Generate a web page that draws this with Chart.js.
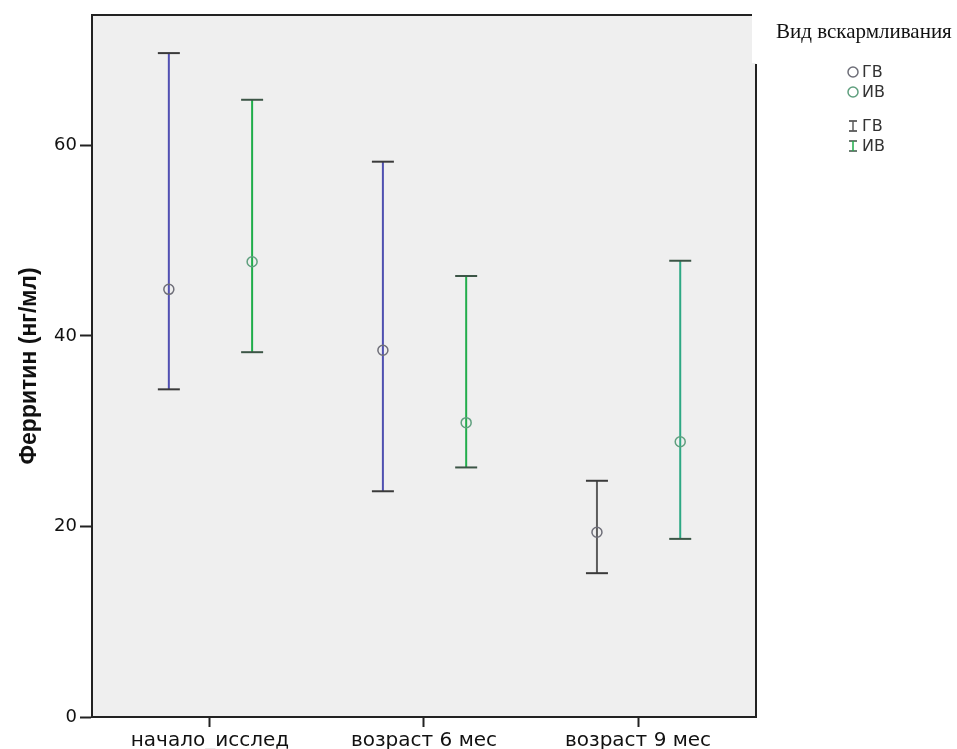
<!DOCTYPE html>
<html><head><meta charset="utf-8">
<script src="https://cdn.jsdelivr.net/npm/chart.js@4.4.1/dist/chart.umd.min.js"></script>
<style>html,body{margin:0;padding:0;background:#fff;overflow:hidden}#wrap{width:957px;height:749px}</style>
</head><body><div id="wrap"><canvas id="c" width="957" height="749"></canvas></div>
<script>
// ---- data ----
const categories = ['начало_исслед', 'возраст 6 мес', 'возраст 9 мес'];
const seriesNames = ['ГВ', 'ИВ'];
const gvMean = [44.9, 38.5, 19.4];
const gvLow  = [34.4, 23.7, 15.1];
const gvHigh = [69.7, 58.3, 24.8];
const ivMean = [47.8, 30.9, 28.9];
const ivLow  = [38.3, 26.2, 18.7];
const ivHigh = [64.8, 46.3, 47.9];
const yTicks = [0, 20, 40, 60];
const yTitle = 'Ферритин (нг/мл)';
const legendTitle = 'Вид вскармливания';

// ---- styling ----
const gvLineColor = ['#5150b2', '#4f50b0', '#5c5c5c'];
const ivLineColor = ['#1fad4a', '#22ad4c', '#2ea884'];
const gvCap = '#3a3a3a', ivCap = '#3c5546';
const gvMark = '#6e6e78', ivMark = '#5f9f7e';
const OFF_GV = -0.192, OFF_IV = 0.197;

const datasets = [];
function addSeries(mean, low, high, off, lineColors, capColor, markColor) {
  categories.forEach((c, i) => {
    const x = i + 1 + off;
    datasets.push({type:'line', data:[{x, y:low[i]}, {x, y:high[i]}], borderColor:lineColors[i],
      borderWidth:2, pointRadius:0, fill:false, order:3});
    datasets.push({type:'scatter', data:[{x, y:low[i]}, {x, y:high[i]}], pointStyle:'line',
      pointRadius:11, pointBorderWidth:2, borderColor:capColor, order:2});
  });
  datasets.push({type:'scatter', data:categories.map((c,i)=>({x:i+1+off, y:mean[i]})), pointStyle:'circle',
    pointRadius:5, pointBorderWidth:1.5, borderColor:markColor, backgroundColor:'rgba(0,0,0,0)', order:1});
}
addSeries(gvMean, gvLow, gvHigh, OFF_GV, gvLineColor, gvCap, gvMark);
addSeries(ivMean, ivLow, ivHigh, OFF_IV, ivLineColor, ivCap, ivMark);

const decor = {
  id:'decor',
  beforeDraw(chart){
    const {ctx, chartArea:a} = chart;
    ctx.save();
    ctx.fillStyle = '#ffffff';
    ctx.fillRect(0,0,chart.width,chart.height);
    ctx.fillStyle = '#efefef';
    ctx.fillRect(a.left, a.top, a.right-a.left, a.bottom-a.top);
    ctx.fillStyle = '#ffffff';
    ctx.fillRect(a.right-4, a.top-2, 10, 50);
    ctx.restore();
  },
  afterDraw(chart){
    const {ctx, chartArea:a} = chart;
    ctx.save();
    ctx.strokeStyle = '#222';
    ctx.lineWidth = 2;
    ctx.beginPath();
    ctx.moveTo(a.left, a.top); ctx.lineTo(a.right-4, a.top);
    ctx.moveTo(a.right, a.top+49); ctx.lineTo(a.right, a.bottom);
    ctx.stroke();
    // legend
    ctx.fillStyle = '#111';
    ctx.font = '21px "Liberation Serif", serif';
    ctx.textBaseline = 'alphabetic';
    ctx.textAlign = 'left';
    ctx.fillText(legendTitle, a.right+20, 38);
    const lx = a.right + 97, tx = a.right + 106;
    ctx.font = '16px "DejaVu Sans", sans-serif';
    ctx.textBaseline = 'middle';
    const rows = [72, 92, 126, 146];
    const markColors = [gvMark, ivMark];
    const capColors = [gvCap, ivCap];
    seriesNames.forEach((n, k) => {
      ctx.strokeStyle = markColors[k]; ctx.lineWidth = 1.5;
      ctx.beginPath(); ctx.arc(lx, rows[k], 5, 0, Math.PI*2); ctx.stroke();
      ctx.fillStyle = '#333'; ctx.fillText(n, tx, rows[k]+1);
    });
    seriesNames.forEach((n, k) => {
      const y = rows[k+2];
      ctx.strokeStyle = capColors[k]; ctx.lineWidth = 1.5;
      ctx.beginPath();
      ctx.moveTo(lx-4, y-5); ctx.lineTo(lx+4, y-5);
      ctx.moveTo(lx-4, y+5); ctx.lineTo(lx+4, y+5);
      ctx.stroke();
      ctx.strokeStyle = k===0 ? gvLineColor[2] : ivLineColor[0]; ctx.lineWidth = 1.5;
      ctx.beginPath(); ctx.moveTo(lx, y-5); ctx.lineTo(lx, y+5); ctx.stroke();
      ctx.fillStyle = '#333'; ctx.fillText(n, tx, y+1);
    });
    ctx.restore();
  }
};

new Chart(document.getElementById('c'), {
  type:'scatter',
  data:{datasets},
  plugins:[decor],
  options:{
    responsive:false, animation:false,
    layout:{padding:{top:15, right:201, bottom:0, left:0}},
    plugins:{legend:{display:false}, tooltip:{enabled:false}},
    scales:{
      x:{type:'linear', min:0.449, max:3.551,
        afterBuildTicks(s){ s.ticks = categories.map((c,i)=>({value:i+1})); },
        afterFit(s){ s.height = 32; },
        ticks:{callback:(v)=>categories[v-1], color:'#111', padding:2, maxRotation:0, autoSkip:false,
          font:{family:'"DejaVu Sans", sans-serif', size:20}},
        grid:{drawOnChartArea:false, drawTicks:true, tickLength:10, color:'#222', tickWidth:2},
        border:{display:true, color:'#222', width:2}},
      y:{type:'linear', min:0, max:73.7,
        afterBuildTicks(s){ s.ticks = yTicks.map(v=>({value:v})); },
        afterFit(s){ s.width = 92; },
        ticks:{color:'#111', padding:3, font:{family:'"DejaVu Sans", sans-serif', size:18}},
        grid:{drawOnChartArea:false, drawTicks:true, tickLength:12, color:'#222', tickWidth:2},
        border:{display:true, color:'#222', width:2},
        title:{display:true, text:yTitle, color:'#111', padding:{top:16, bottom:0},
          font:{family:'"Liberation Sans", Arial, sans-serif', size:23, weight:'bold'}}}
    }
  }
});
</script></body></html>
